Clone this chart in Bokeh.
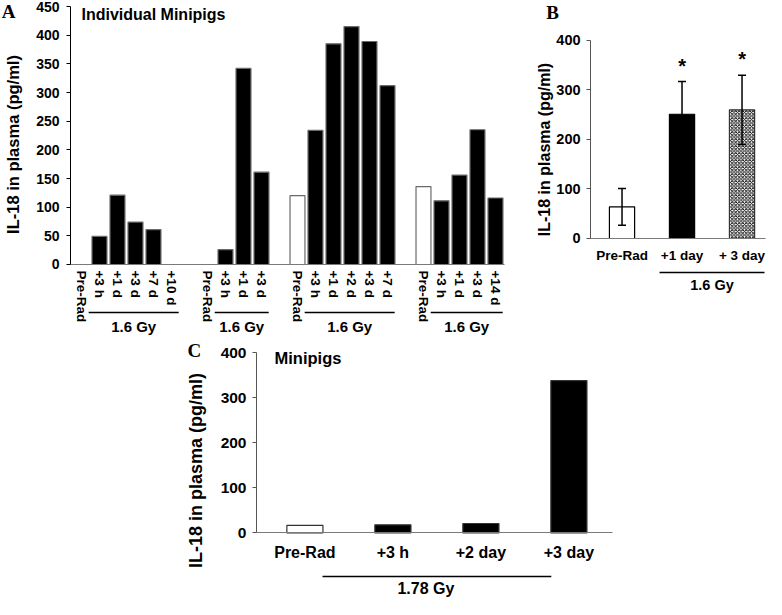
import math
from bokeh.plotting import figure
from bokeh.models import (Range1d, FixedTicker, LinearAxis, Label, Whisker,
                          ColumnDataSource, TeeHead, Spacer)
from bokeh.layouts import row, column
from bokeh.core.properties import value
from bokeh.embed import file_html
from bokeh.resources import INLINE

# ---------------- data ----------------
y_label = "IL-18 in plasma (pg/ml)"

a_title = "Individual Minipigs"
a_dose = "1.6 Gy"
a_group_times = [
    ["Pre-Rad", "+3 h", "+1 d", "+3 d", "+7 d", "+10 d"],
    ["Pre-Rad", "+3 h", "+1 d", "+3 d"],
    ["Pre-Rad", "+3 h", "+1 d", "+2 d", "+3 d", "+7 d"],
    ["Pre-Rad", "+3 h", "+1 d", "+3 d", "+14 d"],
]
a_group_values = [
    [0, 49, 121, 74, 61, 0],
    [0, 26, 342, 161],
    [120, 234, 385, 415, 389, 312],
    [136, 111, 156, 235, 116],
]
a_yticks = [0, 50, 100, 150, 200, 250, 300, 350, 400, 450]

b_times = ["Pre-Rad", "+1 day", "+ 3 day"]
b_means = [64, 251, 260]
b_errors = [37, 66, 70]
b_sig = ["", "*", "*"]
b_dose = "1.6 Gy"
b_yticks = [0, 100, 200, 300, 400]

c_title = "Minipigs"
c_times = ["Pre-Rad", "+3 h", "+2 day", "+3 day"]
c_values = [17, 18, 21, 338]
c_dose = "1.78 Gy"
c_yticks = [0, 100, 200, 300, 400]

FONT = "Liberation Sans"
SERIF = "Liberation Serif"
AXIS_GRAY = "#7a7a7a"


def base_fig(w, h, xr, yr):
    p = figure(width=w, height=h, x_range=xr, y_range=yr,
               output_backend="svg", toolbar_location=None,
               x_axis_type=None, y_axis_type=None, min_border=0,
               min_border_left=0, min_border_right=0,
               min_border_top=0, min_border_bottom=0)
    p.outline_line_color = None
    p.background_fill_color = "white"
    p.border_fill_color = "white"
    return p


def y_axis(p, ticks, loc, top, color, tick_size, major_standoff):
    ax = LinearAxis(ticker=FixedTicker(ticks=ticks), bounds=(0, top), fixed_location=loc)
    ax.axis_line_color = color
    ax.axis_line_width = 1
    ax.major_tick_line_color = color
    ax.major_tick_in = 0
    ax.major_tick_out = 4
    ax.minor_tick_line_color = None
    ax.major_label_text_font = FONT
    ax.major_label_text_font_style = "bold"
    ax.major_label_text_font_size = tick_size
    ax.major_label_text_color = "black"
    ax.major_label_standoff = major_standoff
    p.add_layout(ax, "left")


def x_axis(p, ticks, labels, bounds, size, standoff, vertical=False):
    ax = LinearAxis(ticker=FixedTicker(ticks=ticks), fixed_location=0, bounds=bounds)
    ax.major_label_overrides = {t: l for t, l in zip(ticks, labels)}
    ax.axis_line_color = AXIS_GRAY
    ax.axis_line_width = 1.2
    ax.major_tick_line_color = None
    ax.major_tick_in = 0
    ax.major_tick_out = 0
    ax.minor_tick_line_color = None
    ax.major_label_text_font = FONT
    ax.major_label_text_font_style = "bold"
    ax.major_label_text_font_size = size
    ax.major_label_text_color = "black"
    ax.major_label_standoff = standoff
    if vertical:
        ax.major_label_orientation = "vertical"
    p.add_layout(ax, "below")


def text_label(p, x, y, text, size, font=FONT, align="center", baseline="middle", angle=0.0):
    p.add_layout(Label(x=x, y=y, text=text, text_font=font, text_font_style="bold",
                       text_font_size=size, text_color="black", angle=angle,
                       text_align=align, text_baseline=baseline))


# ---------------- Panel A ----------------
a_x, a_labels, a_vals, a_fill = [], [], [], []
a_brackets = []
pos = 0
for times, vals in zip(a_group_times, a_group_values):
    start = pos
    for t, v in zip(times, vals):
        a_x.append(pos)
        a_labels.append(t)
        a_vals.append(v)
        a_fill.append("white" if t == "Pre-Rad" else "black")
        pos += 1
    a_brackets.append((start + 0.4, pos - 0.6))
    pos += 1

pA = base_fig(520, 336, Range1d(-4.499, 24.39), Range1d(-125.6, 460.5))
pA.vbar(x=a_x, top=a_vals, bottom=0, width=0.83, fill_color=a_fill,
        line_color="#6a6a6a", line_width=1.2)
y_axis(pA, a_yticks, -0.61, 450, "black", "14px", 7)
x_axis(pA, a_x, a_labels, (-0.61, 23.5), "13.5px", 6, vertical=True)
pA.segment(x0=[b[0] for b in a_brackets], x1=[b[1] for b in a_brackets],
           y0=-83.7, y1=-83.7, line_color="black", line_width=1.5)
for b in a_brackets:
    text_label(pA, (b[0] + b[1]) / 2, -108, a_dose, "15px")
text_label(pA, 0.0, 436, a_title, "16px", align="left")
text_label(pA, -4.05, 441, "A", "19px", font=SERIF)
text_label(pA, -3.832, 209.3, y_label, "16.5px", angle=math.pi / 2)

# ---------------- Panel B ----------------
b_x = list(range(len(b_times)))
pB = base_fig(246, 336, Range1d(-1.692, 2.408), Range1d(-198.0, 480.8))
pB.vbar(x=b_x[:2], top=b_means[:2], bottom=0, width=0.42,
        fill_color=["white", "black"], line_color="black", line_width=1.2)
pB.vbar(x=b_x[2:], top=b_means[2:], bottom=0, width=0.42,
        fill_color="white", line_color="#333333", line_width=1.2,
        hatch_pattern="diagonal_cross", hatch_color="black", hatch_scale=3.5,
        hatch_weight=0.9)
err_src = ColumnDataSource(dict(x=b_x,
                                upper=[m + e for m, e in zip(b_means, b_errors)],
                                lower=[m - e for m, e in zip(b_means, b_errors)]))
whisk = Whisker(source=err_src, base="x", upper="upper", lower="lower",
                line_color="black", line_width=1.5, level="overlay",
                upper_head=TeeHead(size=8, line_color="black", line_width=1.5),
                lower_head=TeeHead(size=8, line_color="black", line_width=1.5))
pB.add_layout(whisk)
sig_x = [x for x, s in zip(b_x, b_sig) if s]
sig_y = [m + e + 32 for m, e, s in zip(b_means, b_errors, b_sig) if s]
sig_t = [s for s in b_sig if s]
pB.text(x=sig_x, y=sig_y, text=sig_t, text_font=value(FONT), text_font_style="bold",
        text_font_size="20px", text_align="center", text_baseline="middle",
        text_color="black")
y_axis(pB, b_yticks, -0.525, 400, "#555555", "14.5px", 6)
x_axis(pB, b_x, b_times, (-0.525, 2.39), "13.5px", 10)
pB.segment(x0=[0.625], x1=[2.375], y0=-68.7, y1=-68.7, line_color="black", line_width=1.5)
text_label(pB, 1.5, -93, b_dose, "14.5px")
text_label(pB, -1.159, 456.6, "B", "19px", font=SERIF)
text_label(pB, -1.292, 179.8, y_label, "16px", angle=math.pi / 2)

# ---------------- Panel C ----------------
c_x = list(range(len(c_times)))
c_fill = ["white" if t == "Pre-Rad" else "black" for t in c_times]
pC = base_fig(443, 263, Range1d(-1.459, 3.575), Range1d(-147.5, 435.7))
pC.vbar(x=c_x, top=c_values, bottom=0, width=0.41, fill_color=c_fill,
        line_color="#333333", line_width=1.2)
y_axis(pC, c_yticks, -0.55, 400, "#555555", "15.5px", 6)
x_axis(pC, c_x, c_times, (-0.55, 3.494), "16px", 11)
pC.segment(x0=[0.2], x1=[2.8], y0=-96.5, y1=-96.5, line_color="black", line_width=1.5)
text_label(pC, 1.375, -124, c_dose, "16px")
text_label(pC, -0.345, 389, c_title, "16.5px", align="left")
text_label(pC, -1.255, 404.7, "C", "19px", font=SERIF)
text_label(pC, -1.232, 138.6, y_label, "18px", angle=math.pi / 2)

layout = column(row(pA, pB), row(Spacer(width=176, height=263), pC))

open("out.html", "w").write(file_html(layout, INLINE))
